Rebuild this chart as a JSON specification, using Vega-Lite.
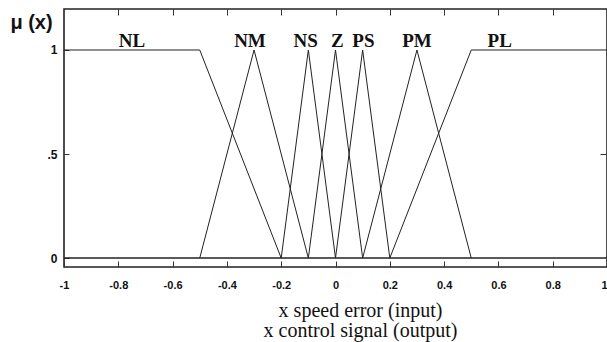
{
  "$schema": "https://vega.github.io/schema/vega-lite/v6.json",
  "autosize": "none",
  "padding": {"left": 64, "top": 9, "right": 0, "bottom": 75},
  "width": 543,
  "height": 258,
  "background": "white",
  "config": {
    "view": {"stroke": "#222", "strokeWidth": 1.6},
    "axis": {"grid": false, "domain": false, "tickColor": "#333", "labelColor": "#111"}
  },
  "datasets": {
    "mf": [
      {"set": "NL", "order": 1, "x": -1, "mu": 1},
      {"set": "NL", "order": 2, "x": -0.5, "mu": 1},
      {"set": "NL", "order": 3, "x": -0.2, "mu": 0},
      {"set": "NM", "order": 1, "x": -0.5, "mu": 0},
      {"set": "NM", "order": 2, "x": -0.3, "mu": 1},
      {"set": "NM", "order": 3, "x": -0.1, "mu": 0},
      {"set": "NS", "order": 1, "x": -0.2, "mu": 0},
      {"set": "NS", "order": 2, "x": -0.1, "mu": 1},
      {"set": "NS", "order": 3, "x": 0, "mu": 0},
      {"set": "Z", "order": 1, "x": -0.1, "mu": 0},
      {"set": "Z", "order": 2, "x": 0, "mu": 1},
      {"set": "Z", "order": 3, "x": 0.1, "mu": 0},
      {"set": "PS", "order": 1, "x": 0, "mu": 0},
      {"set": "PS", "order": 2, "x": 0.1, "mu": 1},
      {"set": "PS", "order": 3, "x": 0.2, "mu": 0},
      {"set": "PM", "order": 1, "x": 0.1, "mu": 0},
      {"set": "PM", "order": 2, "x": 0.3, "mu": 1},
      {"set": "PM", "order": 3, "x": 0.5, "mu": 0},
      {"set": "PL", "order": 1, "x": 0.2, "mu": 0},
      {"set": "PL", "order": 2, "x": 0.5, "mu": 1},
      {"set": "PL", "order": 3, "x": 1, "mu": 1}
    ],
    "labels": [
      {"name": "NL", "x": -0.75, "mu": 1.043},
      {"name": "NM", "x": -0.315, "mu": 1.043},
      {"name": "NS", "x": -0.11, "mu": 1.043},
      {"name": "Z", "x": 0.007, "mu": 1.043},
      {"name": "PS", "x": 0.103, "mu": 1.043},
      {"name": "PM", "x": 0.3, "mu": 1.043},
      {"name": "PL", "x": 0.605, "mu": 1.043}
    ],
    "zero": [{"mu": 0}]
  },
  "resolve": {"axis": {"x": "independent", "y": "independent"}},
  "layer": [
    {
      "data": {"name": "mf"},
      "mark": {"type": "line", "color": "#222", "strokeWidth": 1},
      "encoding": {
        "x": {
          "field": "x", "type": "quantitative",
          "scale": {"domain": [-1, 1], "nice": false, "zero": false},
          "axis": {
            "orient": "bottom",
            "values": [-1, -0.8, -0.6, -0.4, -0.2, 0, 0.2, 0.4, 0.6, 0.8, 1],
            "labelExpr": "'' + datum.value",
            "labelAlign": {"condition": {"test": "datum.value == 1", "value": "right"}, "value": "center"},
            "tickSize": -6, "labelPadding": 18,
            "labelFont": "Liberation Sans", "labelFontWeight": "bold", "labelFontSize": 11,
            "labelFlush": false, "labelOverlap": false,
            "title": ["x speed error (input)", "x control signal (output)"],
            "titleFont": "Liberation Serif", "titleFontWeight": "normal", "titleFontSize": 20,
            "titleLineHeight": 20, "titleColor": "#111",
            "titleX": 296, "titleY": 33, "titleBaseline": "top", "titleAlign": "center"
          }
        },
        "y": {
          "field": "mu", "type": "quantitative",
          "scale": {"domain": [-0.043, 1.197], "nice": false, "zero": false},
          "axis": {
            "orient": "left",
            "values": [0, 0.5, 1],
            "labelExpr": "datum.value == 0.5 ? '.5' : '' + datum.value",
            "tickSize": -5, "labelPadding": 12,
            "labelFont": "Liberation Sans", "labelFontWeight": "bold", "labelFontSize": 12,
            "labelFlush": false,
            "title": "μ (x)", "titleAngle": 0, "titleFont": "Liberation Sans",
            "titleFontWeight": "bold", "titleFontSize": 20, "titleColor": "#111",
            "titleX": -33, "titleY": 13, "titleAlign": "center", "titleBaseline": "middle"
          }
        },
        "detail": {"field": "set"},
        "order": {"field": "order"}
      }
    },
    {
      "data": {"name": "zero"},
      "mark": {"type": "rule", "color": "#222", "strokeWidth": 1.5},
      "encoding": {
        "y": {"field": "mu", "type": "quantitative", "axis": null}
      }
    },
    {
      "data": {"name": "labels"},
      "mark": {"type": "text", "font": "Liberation Serif", "fontWeight": "bold", "fontSize": 19, "baseline": "middle", "align": "center", "color": "#111"},
      "encoding": {
        "x": {
          "field": "x", "type": "quantitative",
          "axis": {
            "orient": "top",
            "values": [-0.8, -0.6, -0.4, -0.2, 0, 0.2, 0.4, 0.6, 0.8],
            "labels": false, "tickSize": -6, "title": null
          }
        },
        "y": {
          "field": "mu", "type": "quantitative",
          "axis": {
            "orient": "right",
            "values": [0.5],
            "labels": false, "tickSize": -7, "title": null
          }
        },
        "text": {"field": "name"}
      }
    }
  ]
}
